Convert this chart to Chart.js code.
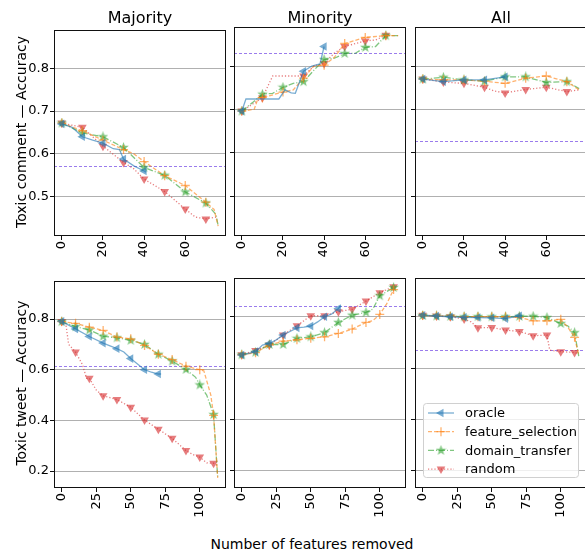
<!DOCTYPE html>
<html>
<head>
<meta charset="utf-8">
<script src="https://cdn.jsdelivr.net/npm/chart.js@4.4.1/dist/chart.umd.min.js"></script>
<style>
  body { margin: 0; width: 585px; height: 552px; overflow: hidden; background: #fff; position: relative; font-family: 'DejaVu Sans', sans-serif; }
  canvas { position: absolute; }
  .txt { position: absolute; color: #000; white-space: nowrap; text-align: center; }
</style>
</head>
<body>

<script>
// ==========================================
// Data
// ==========================================
const groups      = ['Majority', 'Minority', 'All'];
const methods     = ['oracle', 'feature_selection', 'domain_transfer', 'random'];
const rowLabels   = ['Toxic comment \u2014 Accuracy', 'Toxic tweet \u2014 Accuracy'];
const xTicksTop    = [0, 20, 40, 60];
const xTicksBottom = [0, 25, 50, 75, 100];
const yTicksTop    = [0.5, 0.6, 0.7, 0.8];
const yTicksBottom = [0.2, 0.4, 0.6, 0.8];

// baseline (dashed purple) per column
const commentBaselines = [0.572, 0.829, 0.626];
const tweetBaselines   = [0.613, 0.842, 0.671];

// Toxic comment - Majority
const cMajOracle  = [[0,.670],[5,.662],[10,.640],[15,.632],[20,.625],[25,.612],[28,.610],[30,.588],[35,.572],[40,.560],[41,.557]];
const cMajFeature = [[0,.672],[10,.654],[20,.632],[30,.610],[35,.600],[40,.582],[50,.549],[60,.526],[70,.487],[74,.470],[76,.431]];
const cMajDomain  = [[0,.672],[10,.649],[20,.640],[30,.615],[40,.568],[50,.550],[60,.511],[70,.485],[75,.458],[76,.431]];
const cMajRandom  = [[0,.672],[10,.662],[15,.640],[20,.618],[30,.580],[35,.565],[40,.541],[50,.512],[60,.471],[65,.452],[70,.448],[75,.452]];

// Toxic comment - Minority
const cMinOracle  = [[0,.696],[2,.724],[18,.724],[21,.745],[24,.738],[26,.737],[30,.788],[34,.800],[38,.805],[40,.845]];
const cMinFeature = [[0,.696],[6,.700],[8,.727],[10,.727],[20,.740],[25,.745],[30,.772],[35,.800],[40,.802],[45,.820],[50,.852],[60,.866],[70,.870],[76,.870]];
const cMinDomain  = [[0,.696],[5,.715],[10,.735],[15,.737],[20,.751],[25,.760],[30,.764],[35,.790],[40,.815],[45,.818],[50,.829],[55,.829],[60,.843],[65,.845],[70,.870],[76,.870]];
const cMinRandom  = [[0,.696],[10,.727],[15,.777],[30,.777],[35,.800],[40,.806],[45,.830],[50,.845],[60,.858],[65,.860],[70,.871]];

// Toxic comment - All
const cAllOracle  = [[0,.770],[10,.764],[20,.768],[30,.768],[40,.775]];
const cAllFeature = [[0,.770],[10,.768],[20,.768],[30,.765],[40,.760],[50,.772],[60,.777],[70,.764],[76,.745]];
const cAllDomain  = [[0,.770],[10,.774],[20,.768],[30,.765],[40,.775],[50,.775],[60,.762],[70,.764],[76,.748]];
const cAllRandom  = [[0,.770],[10,.763],[20,.760],[30,.751],[35,.742],[40,.738],[50,.746],[60,.751],[70,.741],[76,.745]];

// Toxic tweet - Majority
const tMajOracle  = [[0,.791],[10,.761],[20,.731],[30,.705],[40,.683],[45,.670],[50,.644],[60,.600],[65,.590],[70,.583],[72,.583]];
const tMajFeature = [[0,.790],[10,.783],[20,.768],[30,.755],[40,.729],[50,.722],[60,.696],[70,.661],[80,.640],[90,.614],[100,.600],[103,.595],[108,.500],[110,.420],[113,.173]];
const tMajDomain  = [[0,.790],[10,.770],[20,.757],[30,.732],[40,.726],[50,.716],[60,.700],[70,.661],[80,.634],[90,.601],[97,.570],[100,.540],[105,.500],[110,.423],[113,.173]];
const tMajRandom  = [[0,.790],[3,.780],[5,.700],[10,.670],[15,.620],[18,.566],[20,.566],[25,.520],[30,.497],[40,.482],[50,.452],[60,.401],[70,.365],[80,.329],[90,.281],[95,.265],[100,.255],[105,.232],[110,.231],[113,.220]];

// Toxic tweet - Minority
const tMinOracle  = [[0,.651],[10,.664],[15,.690],[20,.696],[25,.710],[30,.729],[40,.757],[45,.760],[50,.764],[55,.780],[60,.800],[65,.810],[70,.832],[72,.843]];
const tMinFeature = [[0,.652],[10,.660],[20,.690],[30,.705],[40,.710],[50,.716],[60,.722],[70,.735],[80,.752],[90,.778],[95,.785],[100,.809],[105,.850],[110,.906]];
const tMinDomain  = [[0,.652],[10,.662],[20,.692],[30,.692],[40,.716],[50,.722],[60,.738],[70,.778],[80,.806],[90,.817],[95,.830],[100,.882],[110,.914]];
const tMinRandom  = [[0,.652],[10,.669],[20,.690],[30,.729],[40,.765],[50,.804],[60,.804],[70,.820],[80,.829],[90,.861],[100,.894],[110,.917]];

// Toxic tweet - All
const tAllOracle  = [[0,.806],[10,.803],[20,.800],[30,.798],[40,.797],[50,.796],[60,.793],[70,.804],[72,.805]];
const tAllFeature = [[0,.805],[10,.804],[20,.802],[30,.800],[40,.800],[50,.800],[60,.800],[70,.798],[80,.784],[90,.784],[100,.790],[105,.760],[110,.720],[113,.650]];
const tAllDomain  = [[0,.805],[10,.803],[20,.802],[30,.800],[40,.801],[50,.800],[60,.800],[70,.802],[80,.802],[90,.797],[100,.774],[105,.765],[110,.738],[113,.647]];
const tAllRandom  = [[0,.806],[10,.803],[20,.800],[30,.791],[35,.780],[40,.757],[50,.758],[60,.748],[70,.743],[80,.726],[90,.729],[92,.670],[100,.664],[110,.661],[113,.655]];

// ==========================================
// Styles
// ==========================================
const FONT = "'DejaVu Sans', sans-serif";
const PAD_L = 40, PAD_R = 6, PAD_T = 6, PAD_B = 32;

function rgba(rgb, a) { return `rgba(${rgb},${a})`; }

function starImage(rgb, size) {
  const c = document.createElement('canvas');
  c.width = c.height = size;
  const g = c.getContext('2d');
  const cx = size / 2, cy = size / 2, R = size / 2, r = R * 0.42;
  g.fillStyle = rgba(rgb, 0.6);
  g.beginPath();
  for (let i = 0; i < 10; i++) {
    const a = -Math.PI / 2 + i * Math.PI / 5;
    const rad = i % 2 ? r : R;
    g.lineTo(cx + rad * Math.cos(a), cy + rad * Math.sin(a));
  }
  g.closePath();
  g.fill();
  return c;
}

const styles = {
  oracle:            { rgb: '31,119,180', dash: [],           marker: 'triangle', rot: -90, radius: 5,   bw: 0 },
  feature_selection: { rgb: '255,127,14', dash: [4, 2],       marker: 'cross',    rot: 0,   radius: 4.5, bw: 1.3 },
  domain_transfer:   { rgb: '44,160,44',  dash: [6, 2, 1, 2], marker: null,       rot: 0,   radius: 5,   bw: 0 },
  random:            { rgb: '214,39,40',  dash: [1.2, 2],     marker: 'triangle', rot: 180, radius: 5,   bw: 0 }
};
styles.domain_transfer.marker = starImage(styles.domain_transfer.rgb, 11);

// ==========================================
// Plugins
// ==========================================
const framePlugin = {
  id: 'frame',
  afterDraw(chart) {
    const { ctx, chartArea: a } = chart;
    ctx.save();
    ctx.strokeStyle = '#111';
    ctx.lineWidth = 1;
    ctx.strokeRect(Math.round(a.left) + 0.5, Math.round(a.top) + 0.5,
                   Math.round(a.right - a.left) - 1, Math.round(a.bottom - a.top) - 1);
    ctx.restore();
  }
};

const baselinePlugin = {
  id: 'baseline',
  beforeDatasetsDraw(chart, args, opts) {
    if (opts.value == null) return;
    const { ctx, chartArea: a } = chart;
    const y = Math.round(chart.scales.y.getPixelForValue(opts.value)) + 0.5;
    ctx.save();
    ctx.strokeStyle = 'rgba(120,80,230,0.75)';
    ctx.lineWidth = 1;
    ctx.setLineDash([3, 2]);
    ctx.beginPath();
    ctx.moveTo(a.left, y);
    ctx.lineTo(a.right, y);
    ctx.stroke();
    ctx.restore();
  }
};

function drawMarker(ctx, st, x, y) {
  if (typeof st.marker === 'object') {
    ctx.drawImage(st.marker, x - st.marker.width / 2, y - st.marker.height / 2);
    return;
  }
  ctx.save();
  ctx.fillStyle = rgba(st.rgb, 0.6);
  ctx.strokeStyle = rgba(st.rgb, 0.6);
  ctx.lineWidth = st.bw;
  ctx.beginPath();
  if (st.marker === 'triangle') {
    let rad = st.rot * Math.PI / 180;
    for (let i = 0; i < 3; i++) {
      ctx.lineTo(x + Math.sin(rad) * st.radius, y - Math.cos(rad) * st.radius);
      rad += 2 * Math.PI / 3;
    }
    ctx.closePath();
    ctx.fill();
  } else {
    ctx.moveTo(x - st.radius, y); ctx.lineTo(x + st.radius, y);
    ctx.moveTo(x, y - st.radius); ctx.lineTo(x, y + st.radius);
    ctx.stroke();
  }
  ctx.restore();
}

const legendPlugin = {
  id: 'boxLegend',
  afterDraw(chart, args, opts) {
    if (!opts.show) return;
    const { ctx, chartArea: a } = chart;
    const w = 155, h = 74;
    const x0 = a.right - 9 - w, y0 = a.bottom - 11 - h;
    ctx.save();
    ctx.fillStyle = 'rgba(255,255,255,0.8)';
    ctx.strokeStyle = '#d0d0d0';
    ctx.lineWidth = 1;
    ctx.beginPath();
    ctx.roundRect(x0 + 0.5, y0 + 0.5, w, h, 3);
    ctx.fill();
    ctx.stroke();
    ctx.font = `13px ${FONT}`;
    ctx.textBaseline = 'middle';
    methods.forEach((m, i) => {
      const st = styles[m];
      const y = y0 + 10 + i * 18.7;
      ctx.strokeStyle = rgba(st.rgb, 0.6);
      ctx.lineWidth = 1.3;
      ctx.setLineDash(st.dash);
      ctx.beginPath();
      ctx.moveTo(x0 + 5, y);
      ctx.lineTo(x0 + 31, y);
      ctx.stroke();
      ctx.setLineDash([]);
      drawMarker(ctx, st, x0 + 18, y);
      ctx.fillStyle = '#000';
      ctx.fillText(m, x0 + 42, y + 1);
    });
    ctx.restore();
  }
};

// ==========================================
// Panel builder
// ==========================================
function makePanel(p) {
  const canvas = document.createElement('canvas');
  canvas.width = p.w + PAD_L + PAD_R;
  canvas.height = p.h + PAD_T + PAD_B;
  canvas.style.left = (p.left - PAD_L) + 'px';
  canvas.style.top = (p.top - PAD_T) + 'px';
  document.body.appendChild(canvas);

  const datasets = methods.map((m, i) => {
    const st = styles[m];
    return {
      label: m,
      data: p.series[i].map(d => ({ x: d[0], y: d[1] })),
      borderColor: rgba(st.rgb, 0.6),
      backgroundColor: rgba(st.rgb, 0.6),
      borderWidth: 1.3,
      borderDash: st.dash,
      tension: 0,
      pointStyle: st.marker,
      rotation: st.rot,
      pointBorderWidth: st.bw,
      pointBorderColor: rgba(st.rgb, 0.6),
      pointBackgroundColor: rgba(st.rgb, 0.6),
      pointRadius: ctx => (ctx.raw && ctx.raw.x % 10 === 0) ? st.radius : 0,
      pointHoverRadius: 0
    };
  });

  new Chart(canvas, {
    type: 'line',
    data: { datasets },
    plugins: [baselinePlugin, framePlugin, legendPlugin],
    options: {
      animation: false,
      responsive: false,
      devicePixelRatio: 1,
      events: [],
      layout: { padding: { top: PAD_T, right: PAD_R, left: 0, bottom: 0 } },
      plugins: {
        legend: { display: false },
        tooltip: { enabled: false },
        baseline: { value: p.baseline },
        boxLegend: { show: !!p.legend }
      },
      scales: {
        x: {
          type: 'linear',
          min: p.xMin, max: p.xMax,
          afterBuildTicks: s => { s.ticks = p.xTicks.map(v => ({ value: v })); },
          afterFit: s => { s.height = PAD_B; },
          border: { display: false },
          grid: { drawOnChartArea: false, drawTicks: true, tickLength: 4, tickColor: '#111', lineWidth: 1 },
          ticks: {
            minRotation: 90, maxRotation: 90, autoSkip: false, padding: 1,
            color: '#000', font: { family: FONT, size: 13 },
            callback: v => String(v)
          }
        },
        y: {
          type: 'linear',
          min: p.yMin, max: p.yMax,
          afterBuildTicks: s => { s.ticks = p.yTicks.map(v => ({ value: v })); },
          afterFit: s => { s.width = PAD_L; },
          border: { display: false },
          grid: { color: '#b0b0b0', lineWidth: 1, drawTicks: true, tickLength: 4, tickColor: '#111' },
          ticks: {
            display: p.showY, padding: 1,
            color: '#000', font: { family: FONT, size: 13 },
            callback: v => v.toFixed(1)
          }
        }
      }
    }
  });
}

// ==========================================
// Layout
// ==========================================
const colLeft = [54, 234, 415];
const rowTop = [27, 278];
const rowHeight = [209, 210];
const panelW = 172;

const commentSeries = [
  [cMajOracle, cMajFeature, cMajDomain, cMajRandom],
  [cMinOracle, cMinFeature, cMinDomain, cMinRandom],
  [cAllOracle, cAllFeature, cAllDomain, cAllRandom]
];
const tweetSeries = [
  [tMajOracle, tMajFeature, tMajDomain, tMajRandom],
  [tMinOracle, tMinFeature, tMinDomain, tMinRandom],
  [tAllOracle, tAllFeature, tAllDomain, tAllRandom]
];

for (let c = 0; c < 3; c++) {
  makePanel({
    left: colLeft[c], top: rowTop[0], w: panelW, h: rowHeight[0],
    xMin: -3.8, xMax: 79.8, yMin: 0.408, yMax: 0.89,
    xTicks: xTicksTop, yTicks: yTicksTop, showY: c === 0,
    series: commentSeries[c], baseline: commentBaselines[c]
  });
  makePanel({
    left: colLeft[c], top: rowTop[1], w: panelW, h: rowHeight[1],
    xMin: -5.6, xMax: 119, yMin: 0.133, yMax: 0.951,
    xTicks: xTicksBottom, yTicks: yTicksBottom, showY: c === 0,
    series: tweetSeries[c], baseline: tweetBaselines[c], legend: c === 2
  });
}

// Titles and axis labels as text
function addText(str, css) {
  const el = document.createElement('div');
  el.className = 'txt';
  el.textContent = str;
  Object.assign(el.style, css);
  document.body.appendChild(el);
}

groups.forEach((g, c) => {
  addText(g, { left: colLeft[c] + 'px', top: '10px', width: panelW + 'px', fontSize: '16px', lineHeight: '16px' });
});
addText(rowLabels[0], { left: (21 - 150) + 'px', top: (131.5 - 8) + 'px', width: '300px', fontSize: '14px', lineHeight: '16px', transform: 'rotate(-90deg)' });
addText(rowLabels[1], { left: (21 - 150) + 'px', top: (382.7 - 8) + 'px', width: '300px', fontSize: '14px', lineHeight: '16px', transform: 'rotate(-90deg)' });
addText('Number of features removed', { left: (312 - 150) + 'px', top: '536px', width: '300px', fontSize: '14px', lineHeight: '16px' });
</script>
</body>
</html>
